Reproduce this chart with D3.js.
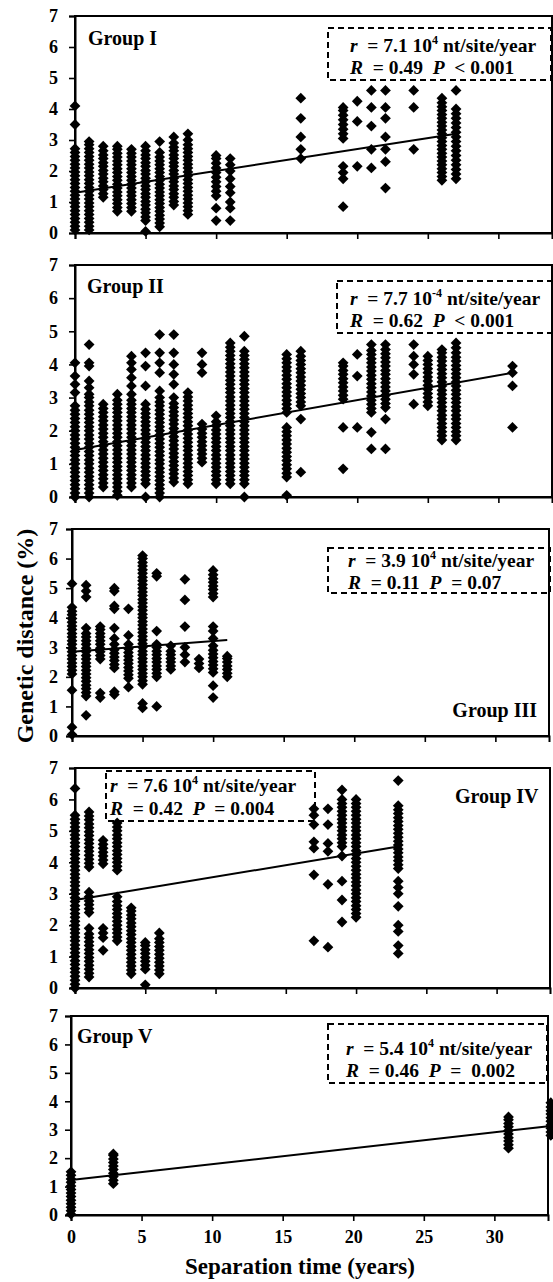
<!DOCTYPE html>
<html><head><meta charset="utf-8">
<script src="https://cdn.jsdelivr.net/npm/d3@7"></script>
<style>
body{margin:0;background:#fff}
text{font-family:"Liberation Serif","Times New Roman",serif;font-weight:bold;white-space:pre;fill:#000}
</style>
</head><body><svg id="c" width="553" height="1282"></svg>
<script>
// ---------- data ----------
const xTickValues = [0,5,10,15,20,25,30];
const yTickValues = [0,1,2,3,4,5,6,7];
const xTitle = "Separation time (years)";
const yTitle = "Genetic distance (%)";

// Group I
const g1Times = [0,1,2,3,4,5,6,7,8,10,11,16,19,20,21,22,24,26,27];
const g1Dist = [
 [0.1,0.22,0.35,0.47,0.6,0.72,0.85,0.97,1.1,1.22,1.35,1.47,1.6,1.72,1.85,1.97,2.1,2.22,2.35,2.47,2.6,2.72,3.5,4.1],
 [0.1,0.22,0.35,0.47,0.6,0.72,0.85,0.97,1.1,1.22,1.35,1.47,1.6,1.72,1.85,1.97,2.1,2.22,2.35,2.47,2.6,2.72,2.85,2.95],
 [1.15,1.27,1.4,1.52,1.65,1.77,1.9,2.02,2.15,2.27,2.4,2.52,2.65,2.8],
 [0.7,0.82,0.95,1.07,1.2,1.32,1.45,1.57,1.7,1.82,1.95,2.07,2.2,2.32,2.45,2.57,2.7,2.8],
 [0.7,0.82,0.95,1.07,1.2,1.32,1.45,1.57,1.7,1.82,1.95,2.07,2.2,2.32,2.45,2.57,2.7],
 [0.05,0.4,0.52,0.65,0.77,0.9,1.02,1.15,1.27,1.4,1.52,1.65,1.77,1.9,2.02,2.15,2.27,2.4,2.52,2.65,2.8],
 [0.2,0.32,0.45,0.57,0.7,0.82,0.95,1.07,1.2,1.32,1.45,1.57,1.7,1.82,1.95,2.07,2.2,2.32,2.45,2.6,2.95],
 [0.9,1.02,1.15,1.27,1.4,1.52,1.65,1.77,1.9,2.02,2.15,2.27,2.4,2.52,2.65,2.77,2.9,3.1],
 [0.6,0.72,0.85,0.97,1.1,1.22,1.35,1.47,1.6,1.72,1.85,1.97,2.1,2.22,2.35,2.47,2.6,2.72,2.85,3.0,3.2],
 [0.4,0.8,1.2,1.35,1.5,1.65,1.8,1.95,2.1,2.25,2.4,2.5],
 [0.4,0.8,1.0,1.3,1.5,1.75,2.0,2.2,2.4],
 [2.4,2.7,3.1,3.7,4.35],
 [0.85,1.75,1.95,2.15,3.05,3.2,3.35,3.5,3.65,3.8,3.95,4.05],
 [2.15,3.6,4.25],
 [2.1,2.7,3.45,4.05,4.6],
 [1.45,2.3,2.7,3.1,3.7,4.05,4.6],
 [2.7,4.05,4.6],
 [1.7,1.82,1.95,2.07,2.2,2.32,2.45,2.57,2.7,2.82,2.95,3.07,3.2,3.32,3.45,3.57,3.7,3.82,3.95,4.07,4.2,4.35],
 [1.75,1.9,2.05,2.2,2.35,2.5,2.65,2.8,2.95,3.1,3.25,3.4,3.55,3.7,3.85,4.0,4.6]
];
const g1Fit = [[0,1.3],[27,3.2]];
const g1Stats = ["7.1","4","0.49","<","0.001"];

// Group II
const g2Times = [0,1,2,3,4,5,6,7,8,9,10,11,12,15,16,19,20,21,22,24,25,26,27,31];
const g2Dist = [
 [0,0.12,0.25,0.37,0.5,0.62,0.75,0.87,1,1.12,1.25,1.37,1.5,1.62,1.75,1.87,2,2.12,2.25,2.37,2.5,2.62,2.75,3.15,3.4,3.65,4.05],
 [0,0.12,0.25,0.37,0.5,0.62,0.75,0.87,1,1.12,1.25,1.37,1.5,1.62,1.75,1.87,2,2.12,2.25,2.37,2.5,2.62,2.75,2.87,3,3.1,3.3,3.5,3.95,4.05,4.6],
 [0.3,0.42,0.55,0.67,0.8,0.92,1.05,1.17,1.3,1.42,1.55,1.67,1.8,1.92,2.05,2.17,2.3,2.42,2.55,2.67,2.8],
 [0.05,0.17,0.3,0.42,0.55,0.67,0.8,0.92,1.05,1.17,1.3,1.42,1.55,1.67,1.8,1.92,2.05,2.17,2.3,2.42,2.55,2.67,2.8,2.92,3.1],
 [0.3,0.42,0.55,0.67,0.8,0.92,1.05,1.17,1.3,1.42,1.55,1.67,1.8,1.92,2.05,2.17,2.3,2.42,2.55,2.67,2.8,2.92,3.1,3.35,3.6,3.85,4.05,4.25],
 [0,0.4,0.52,0.65,0.77,0.9,1.02,1.15,1.27,1.4,1.52,1.65,1.77,1.9,2.02,2.15,2.27,2.4,2.52,2.65,2.8,3.35,3.95,4.35],
 [0,0.12,0.25,0.37,0.5,0.62,0.75,0.87,1,1.12,1.25,1.37,1.5,1.62,1.75,1.87,2,2.12,2.25,2.37,2.5,2.62,2.75,2.87,3,3.2,3.75,4.05,4.35,4.9],
 [0.45,0.57,0.7,0.82,0.95,1.07,1.2,1.32,1.45,1.57,1.7,1.82,1.95,2.07,2.2,2.32,2.45,2.57,2.7,2.82,3,3.4,3.7,4,4.35,4.9],
 [0.4,0.52,0.65,0.77,0.9,1.02,1.15,1.27,1.4,1.52,1.65,1.77,1.9,2.02,2.15,2.27,2.4,2.52,2.65,2.77,2.9,3.02,3.15],
 [1.05,1.17,1.3,1.42,1.55,1.67,1.8,1.92,2.05,2.2,3.75,4,4.35],
 [0.4,0.52,0.65,0.77,0.9,1.02,1.15,1.27,1.4,1.52,1.65,1.77,1.9,2.02,2.15,2.27,2.45],
 [0.4,0.52,0.65,0.77,0.9,1.02,1.15,1.27,1.4,1.52,1.65,1.77,1.9,2.02,2.15,2.27,2.4,2.52,2.65,2.77,2.9,3.02,3.15,3.27,3.4,3.52,3.65,3.77,3.9,4.02,4.15,4.27,4.4,4.52,4.65],
 [0,0.4,0.52,0.65,0.77,0.9,1.02,1.15,1.27,1.4,1.52,1.65,1.77,1.9,2.02,2.15,2.27,2.4,2.52,2.65,2.77,2.9,3.02,3.15,3.27,3.4,3.52,3.65,3.77,3.9,4.02,4.15,4.27,4.4,4.85],
 [0.05,0.6,0.72,0.85,0.97,1.1,1.22,1.35,1.47,1.6,1.72,1.85,1.97,2.1,2.55,2.67,2.8,2.92,3.05,3.17,3.3,3.42,3.55,3.67,3.8,3.92,4.05,4.17,4.3],
 [0.75,2.35,2.75,2.87,3,3.12,3.25,3.37,3.5,3.62,3.75,3.87,4,4.12,4.25,4.4],
 [0.85,2.1,2.95,3.07,3.2,3.32,3.45,3.57,3.7,3.82,3.95,4.05],
 [2.1,3.65,4.3],
 [1.45,1.95,2.55,2.67,2.8,2.92,3.05,3.17,3.3,3.42,3.55,3.67,3.8,3.92,4.05,4.17,4.3,4.42,4.6],
 [1.45,2.35,2.7,2.82,2.95,3.07,3.2,3.32,3.45,3.57,3.7,3.82,3.95,4.07,4.2,4.32,4.45,4.6],
 [2.8,3.7,4,4.25,4.6],
 [2.75,2.87,3,3.12,3.25,3.37,3.5,3.62,3.75,3.87,4,4.12,4.25],
 [1.72,1.85,1.97,2.1,2.22,2.35,2.47,2.6,2.72,2.85,2.97,3.1,3.22,3.35,3.47,3.6,3.72,3.85,3.97,4.1,4.22,4.35,4.45],
 [1.72,1.85,1.97,2.1,2.22,2.35,2.47,2.6,2.72,2.85,2.97,3.1,3.22,3.35,3.47,3.6,3.72,3.85,3.97,4.1,4.22,4.35,4.5,4.65],
 [2.1,3.35,3.75,3.95]
];
const g2Fit = [[0,1.42],[31,3.75]];
const g2Stats = ["7.7","-4","0.62","<","0.001"];

// Group III
const g3Times = [0,1,2,3,4,5,6,7,8,9,10,11];
const g3Dist = [
 [0.05,0.3,1.55,2.1,2.22,2.35,2.47,2.6,2.72,2.85,2.97,3.1,3.22,3.35,3.47,3.6,3.72,3.85,3.97,4.1,4.22,4.35,5.15],
 [0.7,1.35,1.47,1.6,1.72,1.85,1.97,2.1,2.22,2.35,2.47,2.6,2.72,2.85,2.97,3.1,3.22,3.35,3.47,3.65,4.7,4.9,5.1],
 [1.3,1.45,2.6,2.72,2.85,2.97,3.1,3.22,3.35,3.47,3.6,3.7],
 [1.4,1.5,2.3,2.42,2.55,2.67,2.8,2.92,3.1,3.3,3.65,4.3,4.4,4.9,5],
 [1.65,1.95,2.07,2.2,2.32,2.45,2.57,2.7,2.82,2.95,3.1,3.4,4.3],
 [0.95,1.1,1.75,1.87,2,2.12,2.25,2.37,2.5,2.62,2.75,2.87,3,3.12,3.25,3.37,3.5,3.62,3.75,3.87,4,4.12,4.25,4.37,4.5,4.62,4.75,4.87,5,5.12,5.25,5.37,5.5,5.62,5.75,5.87,6,6.1],
 [1,2,2.12,2.25,2.37,2.5,2.62,2.75,2.87,3,3.1,3.55,5.4,5.5],
 [2.25,2.37,2.5,2.62,2.75,2.87,3.05],
 [2.5,2.75,3,3.7,4.6,5.3],
 [2.3,2.45,2.6],
 [1.3,1.7,2.15,2.27,2.4,2.52,2.65,2.77,2.9,3.05,3.3,3.55,3.7,4.7,4.82,4.95,5.07,5.2,5.32,5.45,5.6],
 [2,2.12,2.25,2.37,2.5,2.62,2.7]
];
const g3Fit = [[0,2.85],[11,3.25]];
const g3Stats = ["3.9","4","0.11","=","0.07"];

// Group IV
const g4Times = [0,1,2,3,4,5,6,17,18,19,20,23];
const g4Dist = [
 [0,0.12,0.25,0.37,0.5,0.62,0.75,0.87,1,1.12,1.25,1.37,1.5,1.62,1.75,1.87,2,2.12,2.25,2.37,2.5,2.62,2.75,2.87,3,3.12,3.25,3.37,3.5,3.62,3.75,3.87,4,4.12,4.25,4.37,4.5,4.62,4.75,4.87,5,5.12,5.25,5.37,5.5,6.35],
 [0.35,0.47,0.6,0.72,0.85,0.97,1.1,1.22,1.35,1.47,1.6,1.72,1.9,2.4,2.52,2.65,2.77,2.9,3.05,3.85,3.97,4.1,4.22,4.35,4.47,4.6,4.72,4.85,4.97,5.1,5.22,5.35,5.47,5.6],
 [1.2,1.6,1.75,1.9,3.95,4.07,4.2,4.32,4.45,4.57,4.7],
 [1.5,1.62,1.75,1.87,2,2.12,2.25,2.37,2.5,2.62,2.75,2.9,3.75,3.87,4,4.12,4.25,4.37,4.5,4.62,4.75,4.87,5,5.12,5.25],
 [0.45,0.57,0.7,0.82,0.95,1.07,1.2,1.32,1.45,1.57,1.7,1.82,1.95,2.07,2.2,2.32,2.45,2.55],
 [0.1,0.6,0.72,0.85,0.97,1.1,1.22,1.35,1.45],
 [0.45,0.57,0.7,0.82,0.95,1.07,1.2,1.32,1.45,1.57,1.75],
 [1.5,3.6,4.45,4.65,5.2,5.5,5.7],
 [1.3,3.3,4.35,4.6,5.2,5.7],
 [2.1,2.8,3.4,4.2,4.5,4.62,4.75,4.87,5,5.12,5.25,5.37,5.5,5.62,5.75,5.87,6,6.3],
 [2.25,2.37,2.5,2.62,2.75,2.87,3,3.12,3.25,3.37,3.5,3.62,3.75,3.87,4,4.12,4.25,4.37,4.5,4.62,4.75,4.87,5,5.12,5.25,5.37,5.5,5.62,5.75,5.87,6],
 [1.1,1.35,1.8,2,2.6,3,3.2,3.4,3.8,3.92,4.05,4.17,4.3,4.42,4.55,4.67,4.8,4.92,5.05,5.17,5.3,5.42,5.55,5.67,5.8,6.6]
];
const g4Fit = [[0,2.8],[23,4.5]];
const g4Stats = ["7.6","4","0.42","=","0.004"];

// Group V
const g5Times = [0,3,31,34];
const g5Dist = [
 [0.03,0.15,0.27,0.4,0.52,0.65,0.77,0.9,1.02,1.15,1.27,1.4,1.52],
 [1.1,1.22,1.35,1.47,1.6,1.72,1.85,1.97,2.1,2.15],
 [2.35,2.47,2.6,2.72,2.85,2.97,3.1,3.22,3.35,3.45],
 [2.8,2.92,3.05,3.17,3.3,3.42,3.55,3.67,3.8,3.95]
];
const g5Fit = [[0,1.23],[34,3.13]];
const g5Stats = ["5.4","4","0.46","= ","0.002"];

// ---------- layout ----------
const panels = [
 {name:"Group I",  times:g1Times, dist:g1Dist, fit:g1Fit, stats:g1Stats,
  L:75, R:552, T:16, B:233, lab:{x:88,y:45,a:"start"},
  box:{x:328,y:28,w:223,h:52,tx:350,y1:52,y2:74}, xl:false},
 {name:"Group II", times:g2Times, dist:g2Dist, fit:g2Fit, stats:g2Stats,
  L:75, R:552, T:265, B:497, lab:{x:87,y:293,a:"start"},
  box:{x:337,y:281,w:222,h:52,tx:350,y1:305,y2:327}, xl:false},
 {name:"Group III",times:g3Times, dist:g3Dist, fit:g3Fit, stats:g3Stats,
  L:72, R:549, T:529, B:736, lab:{x:537,y:717,a:"end"},
  box:{x:328,y:548,w:222,h:45,tx:348,y1:567,y2:589}, xl:false},
 {name:"Group IV", times:g4Times, dist:g4Dist, fit:g4Fit, stats:g4Stats,
  L:75, R:550, T:768, B:988, lab:{x:455,y:803,a:"start"},
  box:{x:106,y:771,w:209,h:50,tx:110,y1:792,y2:815}, xl:false},
 {name:"Group V",  times:g5Times, dist:g5Dist, fit:g5Fit, stats:g5Stats,
  L:71, R:548, T:1016, B:1215, lab:{x:77,y:1043,a:"start"},
  box:{x:328,y:1024,w:219,h:59,tx:346,y1:1055,y2:1077}, xl:true}
];

const svg = d3.select("#c");
const diamond = {draw(ctx, size){const r=Math.sqrt(size/2);ctx.moveTo(0,-r);ctx.lineTo(r,0);ctx.lineTo(0,r);ctx.lineTo(-r,0);ctx.closePath();}};
const sym = d3.symbol().type(diamond).size(58);

panels.forEach(p => {
  const x = d3.scaleLinear().domain([0,33.8]).range([p.L,p.R]);
  const y = d3.scaleLinear().domain([0,7]).range([p.B,p.T]);
  const g = svg.append("g");

  // frame
  g.append("rect").attr("x",p.L).attr("y",p.T).attr("width",p.R-p.L).attr("height",p.B-p.T)
    .attr("fill","none").attr("stroke","#000").attr("stroke-width",2);

  // axes
  const ya = g.append("g").attr("transform",`translate(${p.L},0)`)
    .call(d3.axisLeft(y).tickValues(yTickValues).tickSize(6).tickPadding(p.L-58-6).tickFormat(d3.format("d")));
  const xa = g.append("g").attr("transform",`translate(0,${p.B})`)
    .call(d3.axisBottom(x).tickValues(xTickValues).tickSize(6).tickPadding(9)
      .tickFormat(p.xl ? d3.format("d") : () => ""));
  [ya,xa].forEach(a => {
    a.select(".domain").attr("stroke","#000").attr("stroke-width",2);
    a.selectAll(".tick line").attr("stroke","#000").attr("stroke-width",1.6);
    a.selectAll("text").style("font-family",'"Liberation Serif",serif').style("font-weight","bold")
      .style("font-size","18px").attr("fill","#000");
  });

  // points
  const pts = [];
  p.times.forEach((t,i) => p.dist[i].forEach(v => pts.push([t,v])));
  g.append("g").selectAll("path").data(pts).join("path")
    .attr("transform", d => `translate(${x(d[0])},${y(d[1])})`)
    .attr("d", sym).attr("fill","#000");

  // regression line
  g.append("path").datum(p.fit)
    .attr("d", d3.line().x(d=>x(d[0])).y(d=>y(d[1])))
    .attr("fill","none").attr("stroke","#000").attr("stroke-width",2);

  // group label
  g.append("text").attr("x",p.lab.x).attr("y",p.lab.y).attr("text-anchor",p.lab.a)
    .style("font-size","20px").text(p.name);

  // annotation box
  const b = p.box, s = p.stats;
  g.append("rect").attr("x",b.x).attr("y",b.y).attr("width",b.w).attr("height",b.h)
    .attr("fill","none").attr("stroke","#000").attr("stroke-width",2).attr("stroke-dasharray","6,4");
  const t1 = g.append("text").attr("x",b.tx).attr("y",b.y1).style("font-size","19.5px");
  t1.append("tspan").style("font-style","italic").text("r");
  t1.append("tspan").text("  = " + s[0] + " 10");
  t1.append("tspan").attr("dy",-8).style("font-size","12px").text(s[1]);
  t1.append("tspan").attr("dy",8).text(" nt/site/year");
  const t2 = g.append("text").attr("x",b.tx).attr("y",b.y2).style("font-size","19.5px");
  t2.append("tspan").style("font-style","italic").text("R");
  t2.append("tspan").text("  = " + s[2] + "  ");
  t2.append("tspan").style("font-style","italic").text("P");
  t2.append("tspan").text("  " + s[3] + " " + s[4]);
});

// axis titles
svg.append("text").attr("transform","translate(33,636) rotate(-90)").attr("text-anchor","middle")
  .style("font-size","24px").text(yTitle);
svg.append("text").attr("x",300).attr("y",1274).attr("text-anchor","middle")
  .style("font-size","23px").text(xTitle);
</script>
</body></html>
